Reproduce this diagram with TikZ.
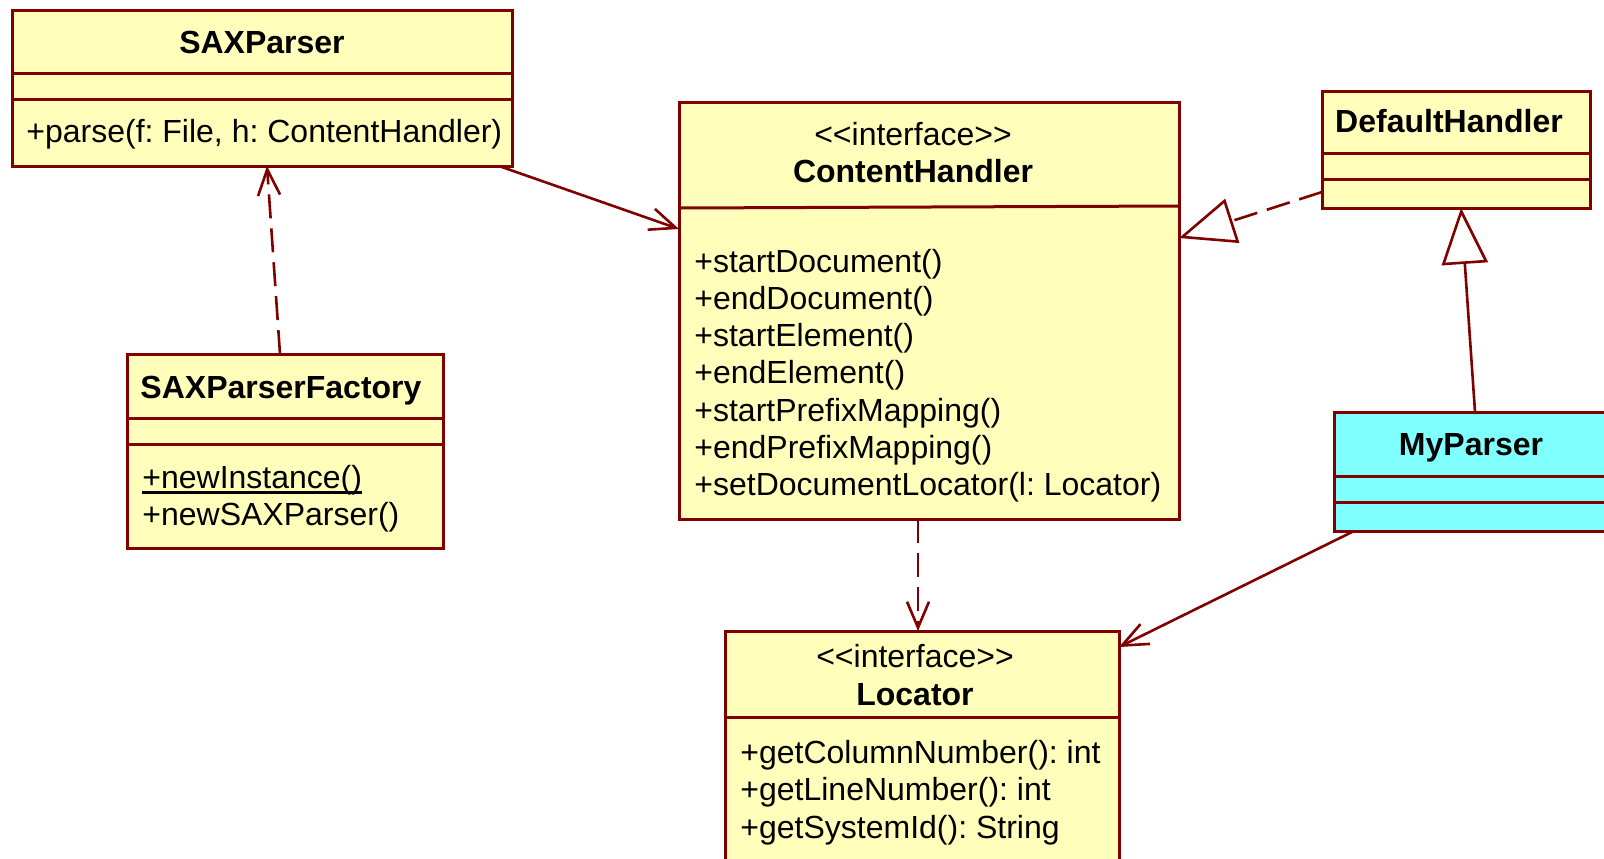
\documentclass[tikz,border=0pt]{standalone}
\usepackage{fontspec}
\setmainfont{Liberation Sans}
\usetikzlibrary{arrows.meta,calc}

\definecolor{umlborder}{RGB}{128,0,0}
\definecolor{umlyellow}{RGB}{255,255,187}
\definecolor{umlcyan}{RGB}{128,255,255}

% static members are underlined with a heavier rule
\newcommand\umlstatic[1]{\setbox0\hbox{#1}\rlap{\vrule height -0.07em depth 0.18em width \wd0}\box0}
\frenchspacing

\begin{document}
\begin{tikzpicture}[x=0.5pt,y=-0.5pt,
  classbox/.style={draw=umlborder, line width=1.5pt, rectangle, inner sep=0pt, outer sep=0pt},
  divider/.style={draw=umlborder, line width=1.5pt},
  classname/.style={font=\fontsize{16}{18.6}\selectfont\bfseries, inner sep=0pt, text height=0.72em, text depth=0em},
  stereotype/.style={font=\fontsize{16}{18.6}\selectfont, inner sep=0pt, text height=0.72em, text depth=0em},
  memberlist/.style={font=\fontsize{16}{18.6}\selectfont, align=left, anchor=north west, inner sep=0pt},
  umlline/.style={draw=umlborder, line width=1.3pt},
  assoc/.style={umlline, -{Straight Barb[length=13pt, width=11pt]}},
  depend/.style={assoc, dash pattern=on 12pt off 5pt},
  inherit/.style={umlline, -{Triangle[length=28pt, width=23pt, fill=white]}},
  realize/.style={inherit, dash pattern=on 12pt off 5pt},
]
\useasboundingbox (0,0) rectangle (1604,858);

% ---- class boxes ----
\node[classbox, fill=umlyellow, minimum width=250pt, minimum height=78pt] (sax) at (262,88) {};
\node[classbox, fill=umlyellow, minimum width=158pt, minimum height=97pt] (spf) at (285,451) {};
\node[classbox, fill=umlyellow, minimum width=250pt, minimum height=208.5pt] (ch) at (929,310.5) {};
\node[classbox, fill=umlyellow, minimum width=134pt, minimum height=58.5pt] (dh) at (1456,149.5) {};
\node[classbox, fill=umlcyan, minimum width=137pt, minimum height=59.5pt] (myp) at (1471,471.5) {};
\node[classbox, fill=umlyellow, minimum width=197pt, minimum height=124.5pt] (loc) at (922,755.5) {};

% ---- compartments ----
\draw[divider] ($(sax.north west)+(0,63)$) -- ($(sax.north east)+(0,63)$);
\draw[divider] ($(sax.north west)+(0,89)$) -- ($(sax.north east)+(0,89)$);
\draw[divider] ($(spf.north west)+(0,64)$) -- ($(spf.north east)+(0,64)$);
\draw[divider] ($(spf.north west)+(0,90)$) -- ($(spf.north east)+(0,90)$);
\draw[divider] ($(ch.north west)+(0,106)$) -- ($(ch.north east)+(0,104)$);
\draw[divider] ($(dh.north west)+(0,62)$) -- ($(dh.north east)+(0,62)$);
\draw[divider] ($(dh.north west)+(0,88)$) -- ($(dh.north east)+(0,88)$);
\draw[divider] ($(myp.north west)+(0,64)$) -- ($(myp.north east)+(0,64)$);
\draw[divider] ($(myp.north west)+(0,90)$) -- ($(myp.north east)+(0,90)$);
\draw[divider] ($(loc.north west)+(0,86)$) -- ($(loc.north east)+(0,86)$);

% ---- names and members ----
\node[classname] (sax-name) at (262,46) {SAXParser};
\node[memberlist] (sax-ops) at (26,119) {+parse(f: File, h: ContentHandler)};

\node[classname] (spf-name) at (281,391) {SAXParserFactory};
\node[memberlist] (spf-ops) at (142,465) {\umlstatic{+newInstance()}\\+newSAXParser()};

\node[stereotype] (ch-stereo) at (913,138) {<{}<interface>{}>};
\node[classname] (ch-name) at (913,175) {ContentHandler};
\node[memberlist] (ch-ops) at (694,248.7) {+startDocument()\\+endDocument()\\+startElement()\\+endElement()\\+startPrefixMapping()\\+endPrefixMapping()\\+setDocumentLocator(l: Locator)};

\node[classname] (dh-name) at (1449,125) {DefaultHandler};

\node[classname] (myp-name) at (1471,448) {MyParser};

\node[stereotype] (loc-stereo) at (915,660) {<{}<interface>{}>};
\node[classname] (loc-name) at (915,698) {Locator};
\node[memberlist] (loc-ops) at (740,740) {+getColumnNumber(): int\\+getLineNumber(): int\\+getSystemId(): String};

% ---- relationships ----
\draw[assoc] ($(sax.south west)+(487,0)$) -- ($(ch.north west)+(0,127)$);
\draw[depend] ($(spf.north west)+(153,0)$) -- ($(sax.south west)+(255,0)$);
\draw[depend] ($(ch.south west)+(239,0)$) -- ($(loc.north west)+(193,0)$);
\draw[realize] ($(dh.north west)+(0,101)$) -- ($(ch.north east)+(0,136)$);
\draw[inherit] ($(myp.north west)+(141,0)$) -- ($(dh.south west)+(139,0)$);
\draw[assoc] ($(myp.south west)+(20,0)$) -- ($(loc.north east)+(0,16)$);
\end{tikzpicture}
\end{document}
